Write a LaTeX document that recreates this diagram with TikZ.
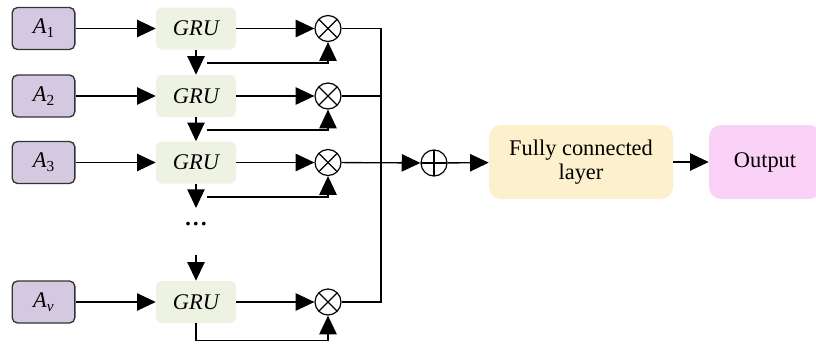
\documentclass[tikz,border=0pt]{standalone}
\usepackage{fontspec}
\setmainfont{Liberation Serif}
\usetikzlibrary{arrows.meta}
\definecolor{inpurple}{HTML}{D4C9E1}
\definecolor{grugreen}{HTML}{EEF2E2}
\definecolor{fcyellow}{HTML}{FCF0CD}
\definecolor{outpink}{HTML}{F9D1F7}
\newcommand\Ain[1]{\textit{A}\raisebox{-0.4ex}{\fontsize{11.5}{12}\selectfont #1}}
\newcommand\labelsize{\fontsize{16.8}{18}\selectfont}
\tikzset{
  inbox/.style={draw=black!80, line width=1pt, fill=inpurple, rounded corners=4pt,
    minimum width=47pt, minimum height=31.5pt, inner sep=0pt},
  grubox/.style={fill=grugreen, rounded corners=4pt, minimum width=60pt,
    minimum height=31.5pt, inner sep=0pt, font=\labelsize\itshape},
  bigbox/.style={rounded corners=9pt, minimum height=55.5pt, inner sep=0pt,
    align=center},
  opcirc/.style={circle, draw, line width=0.9pt, minimum size=19.5pt, inner sep=0pt},
  mulop/.style={opcirc, path picture={
    \draw[line width=0.9pt] ([shift={(45:9.75pt)}]path picture bounding box.center) -- ([shift={(225:9.75pt)}]path picture bounding box.center);
    \draw[line width=0.9pt] ([shift={(135:9.75pt)}]path picture bounding box.center) -- ([shift={(315:9.75pt)}]path picture bounding box.center);}},
  addop/.style={opcirc, path picture={
    \draw[line width=0.9pt] (path picture bounding box.north) -- (path picture bounding box.south);
    \draw[line width=0.9pt] (path picture bounding box.west) -- (path picture bounding box.east);}},
  conn/.style={line width=1pt},
  arr/.style={conn, -{Triangle[length=14pt,width=13pt]}},
}
\begin{document}
\begin{tikzpicture}[x=0.75pt,y=-0.75pt,font=\labelsize]
\useasboundingbox (0,0) rectangle (816,343);

% inputs
\node[inbox] (A1) at (43.5,28.5) {\Ain{1}};
\node[inbox] (A2) at (43.5,96) {\Ain{2}};
\node[inbox] (A3) at (43.5,162.5) {\Ain{3}};
\node[inbox] (Av) at (43.5,302) {\Ain{\textit{v}}};

% recurrent cells
\node[grubox] (G1) at (196,28.5) {GRU};
\node[grubox] (G2) at (196,96) {GRU};
\node[grubox] (G3) at (196,162.5) {GRU};
\node[grubox] (Gv) at (196,302) {GRU};
\node[inner sep=0pt] (dots) at (196,227) {\bfseries\textperiodcentered\kern0.3pt\textperiodcentered\kern0.3pt\textperiodcentered};

% gating products
\node[mulop] (M1) at (328,28.5) {};
\node[mulop] (M2) at (328,96) {};
\node[mulop] (M3) at (328,162.5) {};
\node[mulop] (Mv) at (328,302) {};

% aggregation and head
\node[addop] (P) at (434,163) {};
\node[bigbox, fill=fcyellow, minimum width=138pt] (FC) at (581,162) {Fully connected\\layer};
\node[bigbox, fill=outpink, minimum width=84pt] (Out) at (765,162) {Output};

% auxiliary points
\coordinate (f1) at (207,63);
\coordinate (f2) at (207,130);
\coordinate (f3) at (207,197);
\coordinate (d3) at (196,208);
\coordinate (d4) at (196,255);
\coordinate (bt) at (381,28.5);
\coordinate (bb) at (381,302);

% inputs into cells
\draw[arr] (A1) -- (G1);
\draw[arr] (A2) -- (G2);
\draw[arr] (A3) -- (G3);
\draw[arr] (Av) -- (Gv);

% cells into products
\draw[arr] (G1) -- (M1);
\draw[arr] (G2) -- (M2);
\draw[arr] (G3) -- (M3);
\draw[arr] (Gv) -- (Mv);

% hidden state passed down
\draw[arr] (G1) -- (G2);
\draw[arr] (G2) -- (G3);
\draw[arr] (G3.south) -- (d3);
\draw[arr] (d4) -- (Gv);

% second inputs of the products
\draw[arr] (f1) -| (M1);
\draw[arr] (f2) -| (M2);
\draw[arr] (f3) -| (M3);
\draw[arr] (Gv.south) -- ++(0,17) -| (Mv);

% collecting bus
\draw[conn] (M1) -- (bt) -- (bb) -- (Mv);
\draw[conn] (M2) -- (M2 -| bt);
\draw[arr] (M3) -- (P);
\draw[arr] (P) -- (FC);
\draw[arr] (FC) -- (Out);
\end{tikzpicture}
\end{document}
